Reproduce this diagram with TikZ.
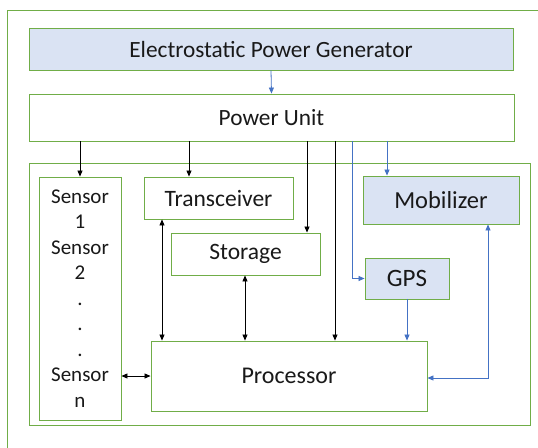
\documentclass[tikz,border=0pt]{standalone}
\usepackage{fontspec}
\setmainfont{Carlito}
\usetikzlibrary{arrows.meta}
\definecolor{grn}{HTML}{70AD47}
\definecolor{lblue}{HTML}{DAE3F3}
\definecolor{abl}{HTML}{4472C4}
\begin{document}
\begin{tikzpicture}[x=1pt,y=-1pt,
  box/.style={draw=grn, line width=0.9pt, inner sep=0pt, font=\fontsize{23.5}{27}\selectfont, text=black!90},
  bluebox/.style={box, fill=lblue},
  frame/.style={draw=grn, line width=0.9pt},
  blk/.style={draw=black, line width=0.8pt, -{Triangle[length=6pt,width=5pt]}},
  blkb/.style={draw=black, line width=0.8pt, {Triangle[length=6pt,width=5pt]}-{Triangle[length=6pt,width=5pt]}},
  blu/.style={draw=abl, line width=0.8pt, -{Triangle[length=6pt,width=5pt]}},
  blub/.style={draw=abl, line width=0.8pt, {Triangle[length=6pt,width=5pt]}-{Triangle[length=6pt,width=5pt]}}]
\useasboundingbox (0,0) rectangle (538,447);
\fill[white] (0,0) rectangle (538,447);
\begin{scope}
\clip (0,0) rectangle (538,447);
\draw[frame] (7,10) rectangle (560,470);
\end{scope}
\draw[frame] (29,163) rectangle (530,425);
\node[bluebox, minimum width=484, minimum height=42, font=\fontsize{23.3}{27}\selectfont] (epg) at (271,49) {Electrostatic Power Generator};
\node[box, minimum width=485, minimum height=47, font=\fontsize{23.3}{27}\selectfont] (pu) at (271.5,117.5) {Power Unit};
\node[box, minimum width=82, minimum height=243, align=center, font=\fontsize{21}{25.5}\selectfont] (sens) at (80,298.5) {Sensor\\1\\Sensor\\2\\.\\.\\.\\Sensor\\n};
\node[box, minimum width=149, minimum height=42] (tr) at (218.5,198) {Transceiver};
\node[box, minimum width=149, minimum height=42] (st) at (245.5,254) {Storage};
\node[box, minimum width=276, minimum height=70, font=\fontsize{24}{28}\selectfont] (pr) at (289,376) {Processor};
\node[bluebox, minimum width=156, minimum height=48, font=\fontsize{24.5}{28}\selectfont] (mob) at (441,200) {Mobilizer};
\node[bluebox, minimum width=84, minimum height=41, font=\fontsize{25}{28}\selectfont] (gps) at (407,278.5) {GPS};
\coordinate (xT) at (189,0);
\coordinate (xSt) at (307,0);
\coordinate (xP) at (335,0);
\coordinate (xG) at (352,0);
\coordinate (xM) at (387,0);
\coordinate (xTP) at (162,0);
\coordinate (xSP) at (245,0);
\coordinate (xGP) at (407,0);
\coordinate (xMP) at (488,0);
\coordinate (yMP) at (0,378);
\draw[blu] (epg.south) -- (pu.north);
\draw[blk] (pu.south -| sens) -- (sens.north);
\draw[blk] (pu.south -| xT) -- (tr.north -| xT);
\draw[blk] (pu.south -| xSt) -- (st.north -| xSt);
\draw[blk] (pu.south -| xP) -- (pr.north -| xP);
\draw[blu] (pu.south -| xG) |- (gps.west);
\draw[blu] (pu.south -| xM) -- (mob.north -| xM);
\draw[blu] (gps.south -| xGP) -- (pr.north -| xGP);
\draw[blub] (mob.south -| xMP) |- (pr.east |- yMP);
\draw[blkb] (tr.south -| xTP) -- (pr.north -| xTP);
\draw[blkb] (st.south -| xSP) -- (pr.north -| xSP);
\draw[blkb] (sens.east |- pr.west) -- (pr.west);
\end{tikzpicture}
\end{document}
